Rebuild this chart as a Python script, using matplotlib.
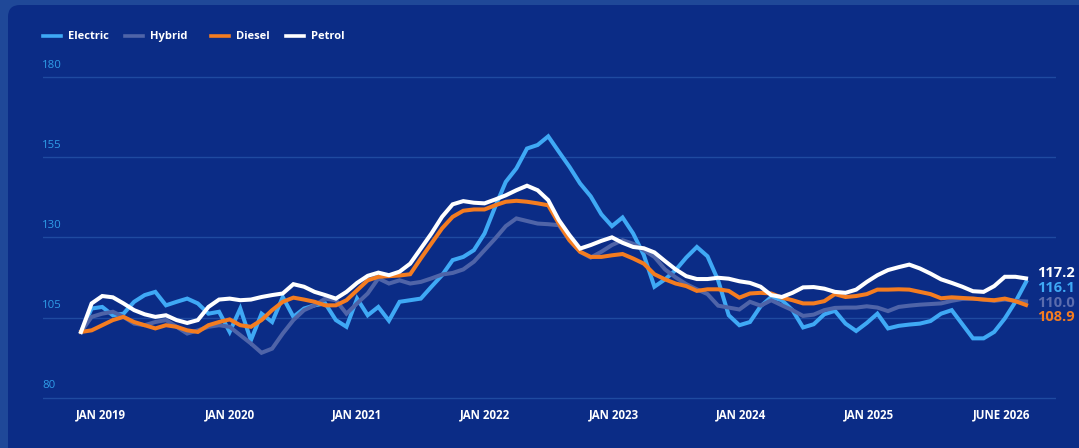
import matplotlib
matplotlib.use("Agg")
import matplotlib.pyplot as plt
from matplotlib.patches import FancyBboxPatch
from matplotlib.lines import Line2D

plt.rcParams['font.family'] = ['Open Sans', 'DejaVu Sans']

# monthly index values (90 points)
electric = [100.5, 107.8, 108.3, 105.7, 106.2, 109.9, 112.0, 113.0, 108.8, 109.9,
            110.9, 109.4, 106.2, 106.8, 100.5, 107.8, 97.9, 106.2, 103.6, 111.4,
            105.2, 107.8, 108.8, 109.4, 104.2, 102.1, 110.9, 105.7, 108.3, 104.0,
            109.9, 110.4, 110.9, 114.6, 118.2, 122.9, 123.9, 126.0, 131.2, 139.5,
            147.3, 151.5, 157.7, 158.8, 161.5, 156.7, 152.0, 146.8, 142.8, 137.2,
            133.5, 136.2, 131.2, 124.5, 114.6, 116.9, 119.8, 123.7, 127.0, 124.1,
            116.6, 105.7, 102.6, 103.6, 108.5, 111.4, 110.4, 107.3, 101.9, 102.9,
            106.0, 107.1, 103.1, 100.8, 103.3, 106.2, 101.6, 102.4, 102.8, 103.1,
            103.9, 106.2, 107.3, 102.9, 98.5, 98.5, 100.5, 104.7, 109.9, 116.1]
hybrid = [100.5, 105.2, 106.2, 106.8, 105.2, 103.1, 102.6, 103.6, 104.2, 102.1,
          100.0, 101.0, 102.1, 102.6, 102.1, 99.5, 96.9, 94.0, 95.3, 100.0,
          104.2, 107.3, 108.8, 110.9, 110.4, 106.2, 109.4, 112.5, 117.2, 115.6,
          116.6, 115.6, 116.1, 117.2, 118.4, 118.9, 120.0, 122.4, 126.0, 129.6,
          133.5, 135.9, 135.1, 134.3, 134.1, 133.8, 129.1, 125.5, 123.7, 125.5,
          127.6, 129.1, 128.0, 126.0, 123.9, 120.0, 117.5, 115.4, 113.8, 112.3,
          108.7, 108.1, 107.5, 109.9, 108.7, 110.4, 108.8, 107.3, 105.5, 105.9,
          107.3, 108.0, 108.1, 108.1, 108.5, 108.1, 107.0, 108.3, 108.7, 109.0,
          109.2, 109.4, 110.2, 110.8, 110.9, 110.6, 110.2, 110.6, 110.2, 110.0]
diesel = [100.5, 101.0, 102.6, 104.2, 105.2, 103.6, 102.6, 101.6, 102.6, 102.1,
          101.0, 100.5, 102.6, 103.6, 104.4, 102.6, 102.1, 104.2, 107.3, 109.9,
          111.2, 110.6, 109.9, 108.8, 108.8, 110.4, 113.5, 116.6, 117.7, 117.9,
          118.1, 118.5, 123.4, 128.1, 132.8, 136.4, 138.3, 138.7, 138.7, 140.0,
          141.1, 141.4, 141.1, 140.6, 140.0, 134.3, 129.1, 125.5, 123.9, 123.9,
          124.4, 124.8, 123.4, 121.8, 118.5, 116.9, 115.6, 114.8, 113.3, 113.8,
          113.8, 113.3, 111.2, 112.5, 112.7, 112.5, 111.2, 110.4, 109.4, 109.4,
          110.1, 112.3, 111.4, 111.7, 112.3, 113.7, 113.7, 113.8, 113.7, 113.0,
          112.3, 111.0, 111.3, 111.1, 110.9, 110.6, 110.4, 110.9, 110.1, 108.9]
petrol = [100.5, 109.4, 111.7, 111.3, 109.4, 107.3, 106.0, 105.2, 105.7, 104.2,
          103.3, 104.2, 108.3, 110.6, 110.9, 110.4, 110.6, 111.4, 112.0, 112.5,
          115.4, 114.6, 113.0, 112.0, 110.9, 113.0, 115.8, 118.0, 119.0, 118.2,
          119.3, 121.8, 126.5, 131.2, 136.4, 140.3, 141.3, 140.8, 140.6, 141.8,
          143.1, 144.7, 146.1, 144.7, 141.6, 135.4, 130.7, 126.5, 127.6, 128.9,
          130.0, 128.3, 127.0, 126.6, 125.3, 122.6, 120.0, 117.9, 117.0, 117.0,
          117.4, 117.1, 116.3, 115.8, 114.6, 112.0, 111.4, 112.7, 114.4, 114.5,
          114.0, 113.0, 112.7, 113.7, 116.1, 118.2, 119.8, 120.7, 121.5, 120.3,
          118.7, 116.9, 115.8, 114.6, 113.2, 113.0, 114.8, 117.7, 117.7, 117.2]

series_names = ['Electric', 'Hybrid', 'Diesel', 'Petrol']
series_colors = ['#3fa9f5', '#4f64a8', '#f47c20', '#ffffff']
label_colors = ['#3fa9f5', '#5a6cae', '#f47c20', '#ffffff']
end_labels = ['116.1', '110.0', '108.9', '117.2']

yticks = [80, 105, 130, 155, 180]
xtick_pos = [1.9, 14.0, 26.0, 38.05, 50.15, 62.2, 74.25, 86.7]
xtick_labels = ['JAN 2019', 'JAN 2020', 'JAN 2021', 'JAN 2022',
                'JAN 2023', 'JAN 2024', 'JAN 2025', 'JUNE 2026']

W, H = 1079, 448
fig = plt.figure(figsize=(W / 100, H / 100), dpi=100)
fig.patch.set_facecolor('#1f4898')

# background panel (pixel coords)
bg = fig.add_axes([0, 0, 1, 1])
bg.set_xlim(0, W)
bg.set_ylim(H, 0)
bg.axis('off')
bg.add_patch(FancyBboxPatch((8, 5), W + 40, H + 40, boxstyle='round,pad=0,rounding_size=12',
                            facecolor='#0b2c86', edgecolor='none'))

# chart axes
ax = fig.add_axes([43 / W, (H - 404.1) / H, (1056 - 43) / W, (404.1 - 70.6) / H])
ax.set_facecolor('none')
for s in ax.spines.values():
    s.set_visible(False)
ax.set_xlim(-3.58, 91.82)
ax.set_ylim(78, 182)

for v in yticks:
    ax.axhline(v, color='#1f4aa0', lw=1.0, zorder=1)
    ax.annotate(str(v), xy=(0, v), xycoords=('axes fraction', 'data'),
                xytext=(-1, 12), textcoords='offset pixels', ha='left', va='center',
                color='#2f9de8', fontsize=8.2)

x = list(range(len(petrol)))
data = [electric, hybrid, diesel, petrol]
for i, (name, vals) in enumerate(zip(series_names, data)):
    ax.plot(x, vals, color=series_colors[i], lw=2.9, solid_joinstyle='miter',
            zorder=3 + i)

# end labels
end_y = [288, 302.5, 317, 273]
for i in range(4):
    fig.text(1037 / W, (H - end_y[i]) / H, end_labels[i], color=label_colors[i],
             fontsize=10.5, fontweight='bold', ha='left', va='center')

ax.set_xticks([])
ax.set_yticks([])
for p, lab in zip(xtick_pos, xtick_labels):
    ax.annotate(lab, xy=(p, 0), xycoords=('data', 'axes fraction'),
                xytext=(0, -11), textcoords='offset pixels', ha='center', va='center',
                color='white', fontsize=8.3, fontweight='bold')

# legend
leg_x = [43, 125, 211, 286]
for i in range(4):
    fig.add_artist(Line2D([leg_x[i] / W, (leg_x[i] + 18) / W], [(H - 36) / H] * 2,
                          color=series_colors[i], lw=2.6, transform=fig.transFigure))
    fig.text((leg_x[i] + 25) / W, (H - 36.5) / H, series_names[i], color='white',
             fontsize=8.0, fontweight='bold', ha='left', va='center')

fig.savefig('out.png', dpi=100, facecolor=fig.get_facecolor())
